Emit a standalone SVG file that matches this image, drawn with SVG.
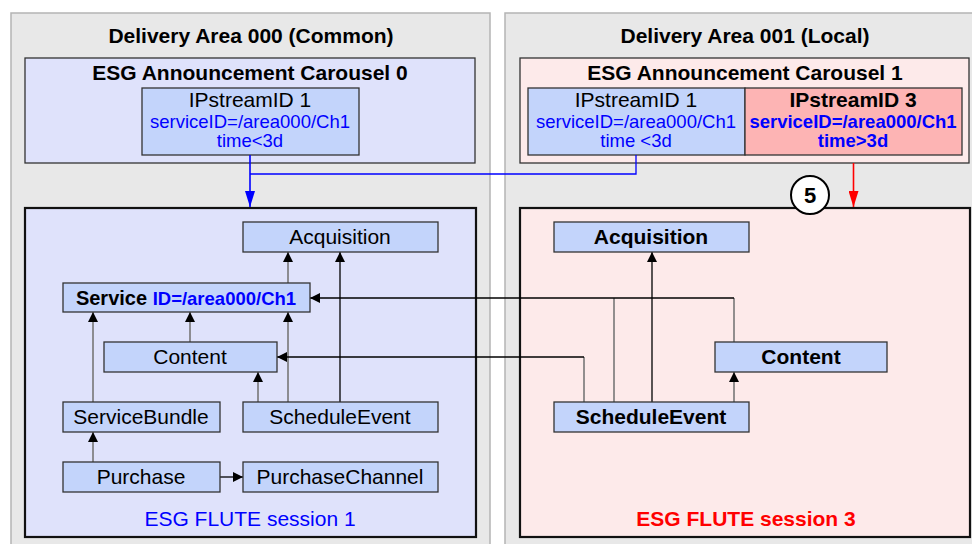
<svg xmlns="http://www.w3.org/2000/svg" width="972" height="544" viewBox="0 0 972 544">
<defs>
<style>
text{font-family:"Liberation Sans",Arial,sans-serif;text-anchor:middle}
.area{fill:#e8e8e8;stroke:#b4b4b4;stroke-width:1.5}
.h1{font-size:21px;font-weight:bold;fill:#000}
.car0{fill:#dfe2fb;stroke:#333;stroke-width:1.3}
.car1{fill:#fdeaea;stroke:#333;stroke-width:1.3}
.ip{fill:#c3d4fb;stroke:#333;stroke-width:1.3}
.ip3{fill:#fdb4b4;stroke:#333;stroke-width:1.3}
.flute0{fill:#dfe2fb;stroke:#111;stroke-width:2.2}
.flute1{fill:#fdeaea;stroke:#111;stroke-width:2.2}
.nd{fill:#c3d4fb;stroke:#333;stroke-width:1.3}
.t{font-size:21px;fill:#000}
.tb{font-size:21px;fill:#000;font-weight:bold}
.blue{font-size:18.5px;fill:#0000ff}
.blueb{font-size:18.5px;fill:#0000ff;font-weight:bold}
.k{stroke:#000;stroke-width:1.3;fill:none}
.g{stroke:#777;stroke-width:1.6;fill:none}
</style>
<marker id="ah" viewBox="0 0 10 10" refX="10" refY="5" markerWidth="10" markerHeight="10" markerUnits="userSpaceOnUse" orient="auto"><path d="M0,0 L10,5 L0,10 z" fill="#000"/></marker>
<marker id="ahb" viewBox="0 0 16 10" refX="16" refY="5" markerWidth="16" markerHeight="10" markerUnits="userSpaceOnUse" orient="auto"><path d="M0,0 L16,5 L0,10 z" fill="#0000ff"/></marker>
<marker id="ahr" viewBox="0 0 16 10" refX="16" refY="5" markerWidth="16" markerHeight="10" markerUnits="userSpaceOnUse" orient="auto"><path d="M0,0 L16,5 L0,10 z" fill="#ff0000"/></marker>
</defs>
<rect width="972" height="544" fill="#fff"/>

<g id="area000">
<rect class="area" x="11" y="13" width="479" height="540"/>
<text class="h1" x="251" y="43">Delivery Area 000 (Common)</text>
</g>
<g id="area001">
<rect class="area" x="505" y="13" width="480" height="540"/>
<text class="h1" x="745" y="43">Delivery Area 001 (Local)</text>
</g>

<g id="carousel0">
<rect class="car0" x="25" y="58" width="450" height="105"/>
<text class="tb" x="250" y="80">ESG Announcement Carousel 0</text>
</g>
<g id="ip1-left">
<rect class="ip" x="142" y="88" width="217" height="67"/>
<text class="t" x="250" y="107">IPstreamID 1</text>
<text class="blue" x="250" y="128">serviceID=/area000/Ch1</text>
<text class="blue" x="250" y="147">time&lt;3d</text>
</g>

<g id="carousel1">
<rect class="car1" x="520" y="58" width="449" height="105"/>
<text class="tb" x="745" y="80">ESG Announcement Carousel 1</text>
</g>
<g id="ip1-right">
<rect class="ip" x="528" y="88" width="217" height="67"/>
<text class="t" x="636" y="107">IPstreamID 1</text>
<text class="blue" x="636" y="128">serviceID=/area000/Ch1</text>
<text class="blue" x="636" y="147">time &lt;3d</text>
</g>
<g id="ip3">
<rect class="ip3" x="745" y="88" width="217" height="67"/>
<text class="tb" x="853" y="107">IPstreamID 3</text>
<text class="blueb" x="853" y="128">serviceID=/area000/Ch1</text>
<text class="blueb" x="853" y="147">time&gt;3d</text>
</g>

<g id="flute1">
<rect class="flute0" x="25" y="208" width="451" height="329"/>
<text x="250" y="526" style="font-size:21px;fill:#0000ff">ESG FLUTE session 1</text>
</g>
<g id="flute3">
<rect class="flute1" x="520" y="208" width="450" height="329"/>
<text x="746" y="526" style="font-size:21px;fill:#ff0000;font-weight:bold">ESG FLUTE session 3</text>
</g>

<g id="step5">
<circle cx="810" cy="195" r="19" fill="#fff" stroke="#000" stroke-width="2"/>
<text x="810" y="203" style="font-size:22px;font-weight:bold">5</text>
</g>

<g id="connectors">
<path d="M250,155 V207" stroke="#0000ff" stroke-width="1.6" fill="none" marker-end="url(#ahb)"/>
<path d="M250,174 H636 V155" stroke="#0000ff" stroke-width="1.3" fill="none"/>
<path d="M853.5,163 V207" stroke="#ff0000" stroke-width="1.6" fill="none" marker-end="url(#ahr)"/>

<path class="g" d="M288,283 V252" marker-end="url(#ah)"/>
<path class="k" d="M340,402 V252" marker-end="url(#ah)"/>
<path class="g" d="M93,402 V312" marker-end="url(#ah)"/>
<path class="g" d="M190,342 V312" marker-end="url(#ah)"/>
<path class="g" d="M258,402 V372" marker-end="url(#ah)"/>
<path class="g" d="M288,402 V312" marker-end="url(#ah)"/>
<path class="g" d="M93,462 V432" marker-end="url(#ah)"/>
<path class="k" d="M220,477 H243" marker-end="url(#ah)"/>

<path class="k" d="M652,402 V252" marker-end="url(#ah)"/>
<path class="g" d="M734,402 V372" marker-end="url(#ah)"/>
<path class="g" d="M614,402 V298"/>
<path class="g" d="M734,342 V298"/>
<path class="k" d="M734,298 H310" marker-end="url(#ah)"/>
<path class="g" d="M584,402 V357"/>
<path class="k" d="M584,357 H277" marker-end="url(#ah)"/>
</g>

<g id="acq-left">
<rect class="nd" x="243" y="222" width="195" height="30"/>
<text class="t" x="340" y="244">Acquisition</text>
</g>
<g id="service-left">
<rect class="nd" x="63" y="283" width="247" height="29"/>
<text x="186" y="305" style="font-weight:bold"><tspan fill="#000" style="font-size:20px">Service </tspan><tspan fill="#0000ff" style="font-size:18.5px">ID=/area000/Ch1</tspan></text>
</g>
<g id="content-left">
<rect class="nd" x="104" y="342" width="173" height="30"/>
<text class="t" x="190" y="364">Content</text>
</g>
<g id="servicebundle-left">
<rect class="nd" x="63" y="402" width="157" height="30"/>
<text class="t" x="141" y="424">ServiceBundle</text>
</g>
<g id="scheduleevent-left">
<rect class="nd" x="243" y="402" width="195" height="30"/>
<text class="t" x="340" y="424">ScheduleEvent</text>
</g>
<g id="purchase-left">
<rect class="nd" x="63" y="462" width="157" height="30"/>
<text class="t" x="141" y="484">Purchase</text>
</g>
<g id="purchasechannel-left">
<rect class="nd" x="243" y="462" width="195" height="30"/>
<text class="t" x="340" y="484">PurchaseChannel</text>
</g>

<g id="acq-right">
<rect class="nd" x="554" y="222" width="195" height="30"/>
<text class="tb" x="651" y="244">Acquisition</text>
</g>
<g id="content-right">
<rect class="nd" x="715" y="342" width="172" height="30"/>
<text class="tb" x="801" y="364">Content</text>
</g>
<g id="scheduleevent-right">
<rect class="nd" x="554" y="402" width="195" height="30"/>
<text class="tb" x="651" y="424">ScheduleEvent</text>
</g>
</svg>
